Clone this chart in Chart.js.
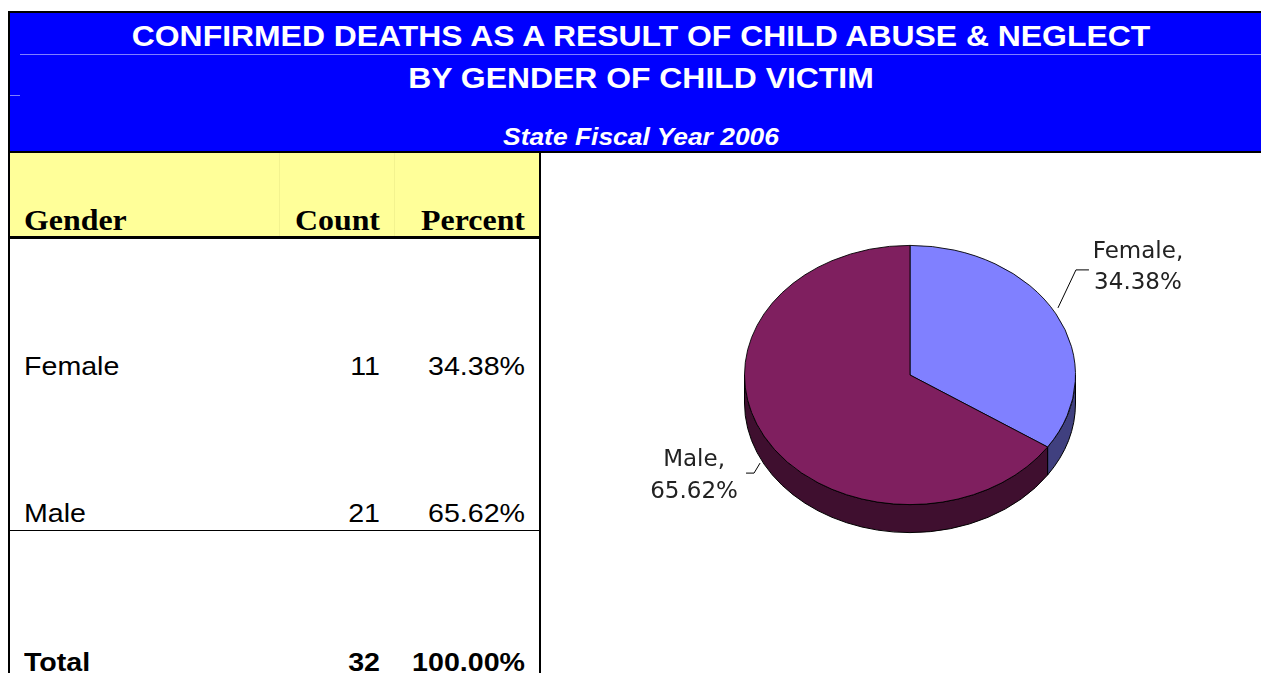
<!DOCTYPE html>
<html><head><meta charset="utf-8">
<script src="https://cdn.jsdelivr.net/npm/chart.js@4.4.0/dist/chart.umd.min.js"></script>
<style>
html,body{margin:0;padding:0;background:#fff;width:1261px;height:673px;overflow:hidden;position:relative;}
.t{position:absolute;white-space:nowrap;line-height:1;}
.title{font-family:"Liberation Sans",Arial,sans-serif;font-weight:bold;color:#fff;left:0;width:1282px;text-align:center;transform:scaleX(1.1);transform-origin:641px 0;}
.hdr{font-family:"Liberation Serif","Times New Roman",serif;font-weight:bold;font-size:29px;color:#000;}
.cell{font-family:"Liberation Sans",Arial,sans-serif;font-size:26px;color:#000;}
.l{transform:scaleX(1.1);transform-origin:left 0;}
.r{text-align:right;left:0;transform:scaleX(1.1);}
#banner{position:absolute;left:8px;top:11px;width:1253px;height:138px;background:#0000ff;border-top:2px solid #000;border-left:2px solid #000;border-bottom:2px solid #000;}
.box{position:absolute;}
#chartbox{position:absolute;left:600px;top:160px;width:661px;height:513px;}
</style></head>
<body>
<div id="banner"></div>
<div class="box" style="left:20px;top:54px;width:1241px;height:1px;background:#7f7fff;"></div>
<div class="box" style="left:10px;top:95px;width:10px;height:1px;background:#7f7fff;"></div>
<div class="box" style="left:10px;top:153px;width:529px;height:84px;background:#ffff99;"></div>
<div class="box" style="left:279px;top:153px;width:1px;height:84px;background:#f3f38f;"></div>
<div class="box" style="left:394px;top:153px;width:1px;height:84px;background:#f3f38f;"></div>
<div class="box" style="left:8px;top:236px;width:533px;height:3px;background:#000;"></div>
<div class="box" style="left:8px;top:153px;width:2px;height:520px;background:#000;"></div>
<div class="box" style="left:539px;top:153px;width:2px;height:520px;background:#000;"></div>
<div class="box" style="left:10px;top:530px;width:529px;height:1px;background:#000;"></div>
<div id="texts"></div>
<div id="chartbox"><canvas id="c" width="661" height="513"></canvas></div>
<script>
// ---- data ----
const titleLines = ['CONFIRMED DEATHS AS A RESULT OF CHILD ABUSE & NEGLECT', 'BY GENDER OF CHILD VICTIM'];
const subTitle = 'State Fiscal Year 2006';
const headers = ['Gender', 'Count', 'Percent'];
const categories = ['Female', 'Male'];
const counts = [11, 21];
const percents = ['34.38%', '65.62%'];
const totalLabel = 'Total';
const totalCount = 32;
const totalPercent = '100.00%';

// ---- styles ----
const topColors = ['#8080ff', '#7f1f5f'];
const sideColors = ['#40407f', '#3f0f2f'];
const TILT = 130 / 166;
const DEPTH = 28;

const T = document.getElementById('texts');
function addText(txt, cls, style){
  const d = document.createElement('div');
  d.className = 't ' + cls;
  d.textContent = txt;
  d.setAttribute('style', style);
  T.appendChild(d);
  return d;
}
addText(titleLines[0], 'title', 'top:22px;font-size:29px;');
addText(titleLines[1], 'title', 'top:64px;font-size:29px;');
addText(subTitle, 'title', 'top:125px;font-size:24px;font-style:italic;');

addText(headers[0], 'hdr l', 'left:24px;top:206px;');
addText(headers[1], 'hdr r', 'width:380px;top:206px;transform-origin:380px 0;');
addText(headers[2], 'hdr r', 'width:525px;top:206px;transform-origin:525px 0;');

const rowTops = [353, 500];
categories.forEach((c, i) => {
  addText(c, 'cell l', 'left:24px;top:' + rowTops[i] + 'px;');
  addText(String(counts[i]), 'cell r', 'width:380px;top:' + rowTops[i] + 'px;transform-origin:380px 0;');
  addText(percents[i], 'cell r', 'width:525px;top:' + rowTops[i] + 'px;transform-origin:525px 0;');
});
addText(totalLabel, 'cell l', 'left:24px;top:649px;font-weight:bold;');
addText(String(totalCount), 'cell r', 'width:380px;top:649px;font-weight:bold;transform-origin:380px 0;');
addText(totalPercent, 'cell r', 'width:525px;top:649px;font-weight:bold;transform-origin:525px 0;');

const pie3d = {
  id: 'pie3d',
  beforeDatasetsDraw(chart){
    const ctx = chart.ctx;
    const arcs = chart.getDatasetMeta(0).data;
    const cx = arcs[0].x, cy = arcs[0].y;
    ctx.save();
    arcs.forEach((a, i) => {
      const r = a.outerRadius;
      const s = Math.max(a.startAngle, 0), e = Math.min(a.endAngle, Math.PI);
      if (e <= s) return;
      ctx.beginPath();
      ctx.ellipse(cx, cy, r, r * TILT, 0, s, e, false);
      ctx.ellipse(cx, cy + DEPTH, r, r * TILT, 0, e, s, true);
      ctx.closePath();
      ctx.fillStyle = sideColors[i];
      ctx.fill();
      ctx.lineWidth = 1;
      ctx.strokeStyle = '#000';
      ctx.stroke();
    });
    ctx.translate(0, cy);
    ctx.scale(1, TILT);
    ctx.translate(0, -cy);
  },
  afterDatasetsDraw(chart){
    chart.ctx.restore();
  },
  afterDraw(chart){
    const ctx = chart.ctx;
    const arcs = chart.getDatasetMeta(0).data;
    ctx.save();
    ctx.font = '23px "DejaVu Sans"';
    ctx.fillStyle = '#222';
    ctx.strokeStyle = '#000';
    ctx.lineWidth = 1;
    ctx.textAlign = 'center';
    ctx.textBaseline = 'middle';
    arcs.forEach((a, i) => {
      const m = (a.startAngle + a.endAngle) / 2;
      const ax = a.x + a.outerRadius * Math.cos(m);
      const ay = a.y + a.outerRadius * TILT * Math.sin(m);
      let pts, tx, ty1, ty2;
      if (Math.cos(m) >= 0) {
        pts = [[ax + 2, ay - 6], [ax + 20, ay - 44], [ax + 33, ay - 44]];
        tx = ax + 82; ty1 = ay - 62; ty2 = ay - 31;
      } else {
        pts = [[ax - 4, ay + 27], [ax - 10, ay + 37], [ax - 18, ay + 37]];
        tx = ax - 70; ty1 = ay + 24; ty2 = ay + 56;
      }
      ctx.beginPath();
      ctx.moveTo(pts[0][0], pts[0][1]);
      pts.slice(1).forEach(p => ctx.lineTo(p[0], p[1]));
      ctx.stroke();
      ctx.fillText(categories[i] + ',', tx, ty1);
      ctx.fillText(percents[i], tx, ty2);
    });
    ctx.restore();
  }
};

new Chart(document.getElementById('c'), {
  type: 'pie',
  data: {
    labels: categories,
    datasets: [{ data: counts, backgroundColor: topColors, borderColor: '#000', borderWidth: 1, clip: false }]
  },
  options: {
    responsive: false,
    animation: false,
    events: [],
    layout: { padding: { left: 144, right: 185, top: 49, bottom: 132 } },
    plugins: { legend: { display: false }, tooltip: { enabled: false } }
  },
  plugins: [pie3d]
});
</script>
</body></html>
